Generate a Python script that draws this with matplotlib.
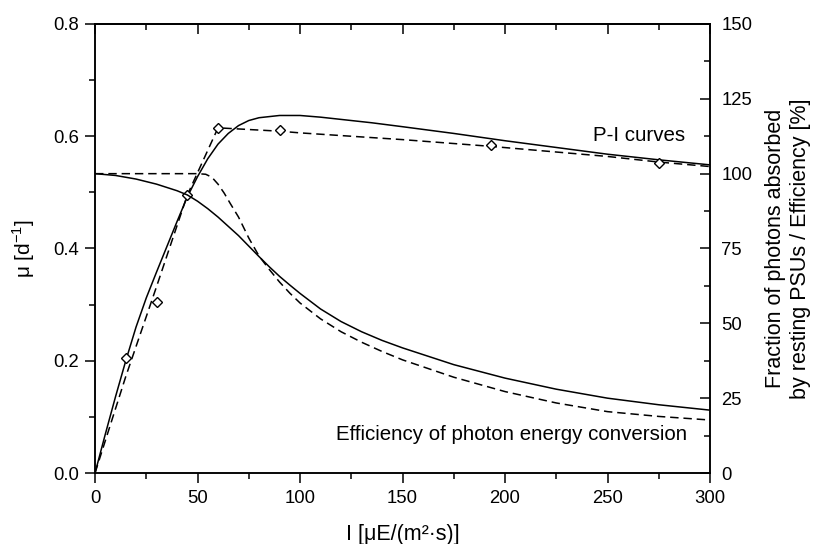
import matplotlib
matplotlib.use("Agg")
import matplotlib.pyplot as plt
from matplotlib.ticker import MultipleLocator

plt.rcParams['font.family'] = ['Liberation Sans', 'DejaVu Sans']
plt.rcParams['mathtext.fontset'] = 'custom'
plt.rcParams['mathtext.rm'] = 'Liberation Sans'

# Measured growth rates (diamonds)
meas_I = [15, 30, 45, 60, 90, 193, 275]
meas_mu = [0.205, 0.305, 0.495, 0.615, 0.611, 0.584, 0.552]

# P-I curve, model 1 (solid)
pi_solid_I = [0, 5, 10, 15, 20, 25, 30, 35, 40, 45, 50, 55, 60, 65, 70, 75, 80, 90, 100,
              110, 120, 135, 150, 175, 200, 225, 250, 275, 300]
pi_solid_mu = [0, 0.069, 0.136, 0.200, 0.260, 0.312, 0.358, 0.403, 0.448, 0.492, 0.528,
               0.560, 0.586, 0.605, 0.619, 0.628, 0.633, 0.637, 0.637, 0.634, 0.630, 0.624,
               0.617, 0.605, 0.592, 0.580, 0.568, 0.558, 0.549]

# P-I curve, model 2 (dashed)
pi_dash_I = [0, 15, 30, 45, 60, 90, 100, 150, 193, 250, 275, 300]
pi_dash_mu = [0, 0.172, 0.332, 0.495, 0.615, 0.609, 0.606, 0.594, 0.582, 0.564, 0.554, 0.546]

# Efficiency, model 1 (solid) [%]
eff_solid_I = [0, 10, 20, 30, 40, 45, 50, 55, 60, 65, 70, 75, 80, 85, 90, 95, 100, 110, 120,
               130, 140, 150, 175, 200, 225, 250, 275, 300]
eff_solid_pct = [100, 99.4, 98.2, 96.5, 94.3, 92.9, 90.8, 88.3, 85.5, 82.4, 79.3, 75.8, 72.3,
                 68.9, 65.7, 62.8, 60.0, 54.8, 50.6, 47.2, 44.3, 41.8, 36.2, 31.7, 28.0, 25.0,
                 22.8, 21.0]

# Efficiency, model 2 (dashed) [%]
eff_dash_I = [0, 50, 54, 57, 60, 63, 66, 70, 75, 80, 85, 90, 95, 100, 110, 120, 130, 140, 150,
              175, 200, 225, 250, 275, 300]
eff_dash_pct = [100, 100, 99.8, 98.8, 96.5, 93.5, 90.0, 85.5, 78.5, 72.5, 68.0, 63.8, 60.1,
                56.8, 51.5, 47.2, 43.7, 40.6, 37.8, 32.0, 27.2, 23.4, 20.5, 18.9, 17.7]

fig = plt.figure(figsize=(8.15, 5.44), dpi=100)
ax = fig.add_axes([0.1166, 0.1305, 0.7546, 0.8254])
ax2 = ax.twinx()

lw = 1.1
dash = (0, (5.5, 3.2))
ax.plot(pi_solid_I, pi_solid_mu, color='black', lw=lw)
ax.plot(pi_dash_I, pi_dash_mu, color='black', lw=lw, linestyle=dash)
ax.plot(meas_I, meas_mu, linestyle='none', marker='D', ms=5.2, mfc='white', mec='black', mew=1.0, zorder=5)
ax2.plot(eff_solid_I, eff_solid_pct, color='black', lw=lw)
ax2.plot(eff_dash_I, eff_dash_pct, color='black', lw=lw, linestyle=dash)

ax.set_xlim(0, 300)
ax.set_ylim(0, 0.8)
ax2.set_ylim(0, 150)

ax.xaxis.set_major_locator(MultipleLocator(50))
ax.xaxis.set_minor_locator(MultipleLocator(25))
ax.yaxis.set_major_locator(MultipleLocator(0.2))
ax.yaxis.set_minor_locator(MultipleLocator(0.1))
ax2.yaxis.set_major_locator(MultipleLocator(25))
ax2.yaxis.set_minor_locator(MultipleLocator(12.5))
ax.yaxis.set_major_formatter(plt.FormatStrFormatter('%.1f'))

tick_fs = 13.3
ax.tick_params(axis='x', which='major', direction='out', length=7, width=1.1, labelsize=tick_fs,
               pad=5.5, top=False)
ax.tick_params(axis='y', which='major', direction='out', length=7, width=1.1, labelsize=tick_fs,
               pad=4.5, right=False)
ax.tick_params(axis='both', which='minor', direction='out', length=4, width=1.1, right=False, top=False)
ax2.tick_params(axis='y', which='major', direction='in', length=7, width=1.1, labelsize=tick_fs, pad=8)
ax2.tick_params(axis='y', which='minor', direction='in', length=4, width=1.1)

secx = ax.secondary_xaxis('top')
secx.xaxis.set_major_locator(MultipleLocator(50))
secx.xaxis.set_minor_locator(MultipleLocator(25))
secx.tick_params(axis='x', which='major', direction='in', length=7, width=1.1, labeltop=False)
secx.tick_params(axis='x', which='minor', direction='in', length=4, width=1.1)

for a in (ax, ax2):
    for s in a.spines.values():
        s.set_linewidth(1.1)
secx.spines['top'].set_linewidth(1.1)

ax.set_xlabel('I [μE/(m²·s)]', fontsize=15.5, labelpad=12)
ax.set_ylabel('μ [d$^{\\mathregular{-1}}$]', fontsize=15, labelpad=12)
ax2.set_ylabel('Fraction of photons absorbed\nby resting PSUs / Efficiency [%]', fontsize=15.5,
               labelpad=9, linespacing=1.3)

ax.text(288, 0.602, 'P-I curves', ha='right', va='center', fontsize=14.8)
ax.text(289, 0.068, 'Efficiency of photon energy conversion', ha='right', va='center', fontsize=14.8)

fig.savefig('out.png', dpi=100)
